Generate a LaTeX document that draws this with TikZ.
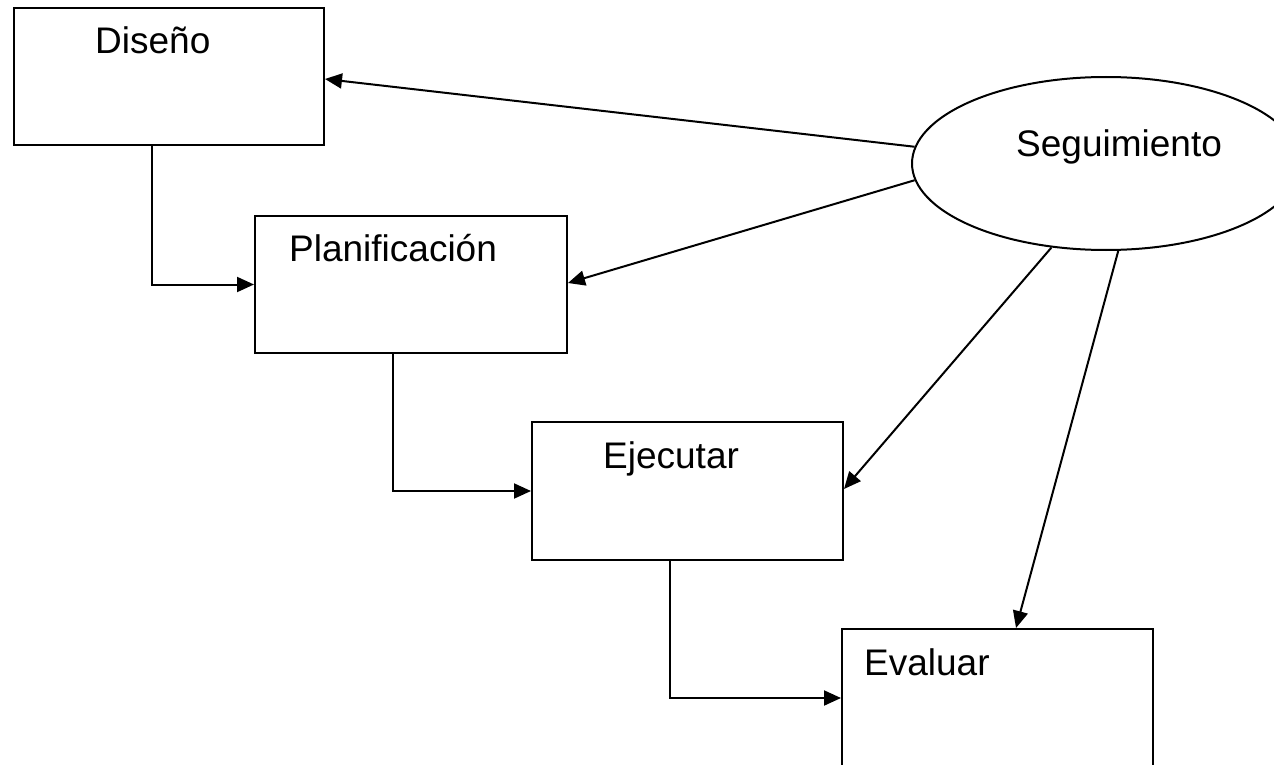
\documentclass[tikz,border=0pt]{standalone}
\usepackage{fontspec}
\setmainfont{Liberation Sans}
\usetikzlibrary{arrows.meta,shapes.geometric}
\tikzset{
  box/.style={draw, line width=2pt, rectangle, inner sep=0pt},
  oval/.style={draw, line width=2pt, ellipse, inner sep=0pt},
  lbl/.style={anchor=base west, inner sep=0pt, font=\fontsize{37}{44}\selectfont},
  arr/.style={line width=2pt, -{Triangle[length=17pt,width=15pt]}},
}
\begin{document}
\begin{tikzpicture}[x=1pt,y=-1pt]
\useasboundingbox[fill=white] (0,0) rectangle (1274,765);
\clip (0,0) rectangle (1274,765);
% boxes
\node[box, minimum width=310pt, minimum height=137pt] (dis)  at (169,76.5) {};
\node[box, minimum width=312pt, minimum height=137pt] (plan) at (411,284.5) {};
\node[box, minimum width=311pt, minimum height=138pt] (ejec) at (687.5,491) {};
\node[box, minimum width=311pt, minimum height=138pt] (eval) at (997.5,698) {};
\node[oval, minimum width=388pt, minimum height=173pt] (seg) at (1106,163.5) {};
% labels
\node[lbl] (tdis)  at (95,54)    {Diseño};
\node[lbl] (tplan) at (289,261)  {Planificación};
\node[lbl] (tejec) at (603,468)  {Ejecutar};
\node[lbl] (teval) at (864,675)  {Evaluar};
\node[lbl] (tseg)  at (1016,157) {Seguimiento};
% flow connectors
\draw[arr] ([xshift=-17pt]dis.south)  |- (plan.west);
\draw[arr] ([xshift=-18pt]plan.south) |- (ejec.west);
\draw[arr] ([xshift=-17.5pt]ejec.south) |- (eval.west);
% from Seguimiento
\draw[arr] (seg.175.1) -- ([yshift=-2.5pt]dis.east);
\draw[arr] (seg.185.2) -- ([yshift=1.5pt]plan.east);
\draw[arr] (seg.237) -- ([yshift=2pt]ejec.east);
\draw[arr] (seg.278) -- ([xshift=18.5pt]eval.north);
\end{tikzpicture}
\end{document}
